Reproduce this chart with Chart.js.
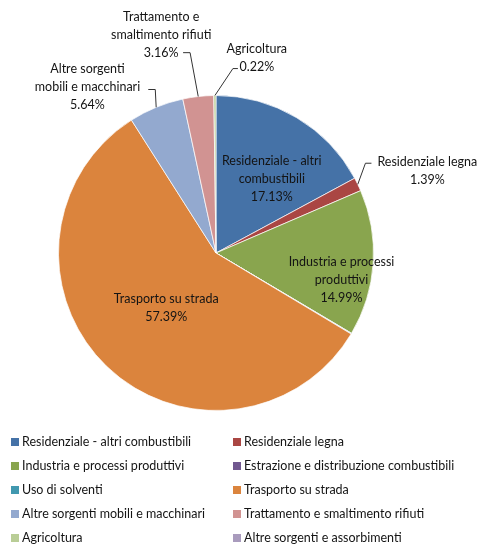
<!DOCTYPE html>
<html>
<head>
<meta charset="utf-8">
<script src="https://cdn.jsdelivr.net/npm/chart.js@4/dist/chart.umd.min.js"></script>
<style>
  html, body { margin: 0; padding: 0; background: #fff; }
  #wrap { width: 483px; height: 545px; }
</style>
</head>
<body>
<div id="wrap"><canvas id="c" width="483" height="545"></canvas></div>
<script>
// ---- data ----
const categories = [
  "Residenziale - altri combustibili",
  "Residenziale legna",
  "Industria e processi produttivi",
  "Estrazione e distribuzione combustibili",
  "Uso di solventi",
  "Trasporto su strada",
  "Altre sorgenti mobili e macchinari",
  "Trattamento e smaltimento rifiuti",
  "Agricoltura",
  "Altre sorgenti e assorbimenti"
];
const shares = [17.13, 1.39, 14.99, 0.04, 0.04, 57.39, 5.64, 3.16, 0.22, 0.00];

// ---- styles / layout ----
const colors = ["#4572A7", "#AA4643", "#89A54E", "#71588F", "#4198AF",
                "#DB843D", "#93A9CF", "#D19392", "#B9CD96", "#A99BBD"];
const FONT = "Lato, 'Open Sans', sans-serif";
const textColor = "#141414";
// label layout: index -> block centre (in units of radius, relative to pie centre),
// word index after which the name wraps, and optional leader start/elbow
const labelLayout = [
  { i: 0, dx: 0.354, dy: -0.468, brk: 3 },
  { i: 1, dx: 1.342, dy: -0.519, brk: 0, lead: { sx: 0.987, sy: -0.570, ex: -6 } },
  { i: 2, dx: 0.797, dy: 0.171, brk: 3 },
  { i: 5, dx: -0.316, dy: 0.348, brk: 0 },
  { i: 6, dx: -0.816, dy: -1.051, brk: 2, lead: { sx: -0.430, sy: -1.038, ex: 7 } },
  { i: 7, dx: -0.348, dy: -1.386, brk: 2, lead: { sx: -0.209, sy: -1.272, ex: 7 } },
  { i: 8, dx: 0.259, dy: -1.241, brk: 0, lead: { sx: 0.139, sy: -1.171, ex: -5 } }
];
const legendLayout = { colX: [11, 233], rowY: 442, rowStep: 24, box: 8, gap: 3 };

function splitName(name, brk) {
  const w = name.split(" ");
  if (!brk) return [name];
  return [w.slice(0, brk).join(" "), w.slice(brk).join(" ")];
}

const labelPlugin = {
  id: "sliceLabels",
  afterDatasetsDraw(chart) {
    const ctx = chart.ctx;
    const meta = chart.getDatasetMeta(0);
    const values = chart.data.datasets[0].data;
    ctx.save();
    ctx.font = "12.5px " + FONT;
    ctx.fillStyle = textColor;
    ctx.textAlign = "center";
    ctx.textBaseline = "middle";
    const lh = 18;
    labelLayout.forEach(L => {
      const arc = meta.data[L.i];
      const cx = arc.x, cy = arc.y, R = arc.outerRadius;
      const lines = splitName(chart.data.labels[L.i], L.brk);
      lines.push(values[L.i].toFixed(2) + "%");
      const bx = cx + L.dx * R, by = cy + L.dy * R;
      const top = by - (lines.length - 1) * lh / 2;
      lines.forEach((t, k) => ctx.fillText(t, bx, top + k * lh));
      if (L.lead) {
        const mid = (arc.startAngle + arc.endAngle) / 2;
        const ax = cx + Math.cos(mid) * R, ay = cy + Math.sin(mid) * R;
        const sx = cx + L.lead.sx * R, sy = cy + L.lead.sy * R;
        ctx.beginPath();
        ctx.strokeStyle = "#333333";
        ctx.lineWidth = 1;
        ctx.moveTo(sx, sy);
        ctx.lineTo(sx + L.lead.ex, sy);
        ctx.lineTo(ax, ay);
        ctx.stroke();
      }
    });
    ctx.restore();
  },
  afterDraw(chart) {
    const ctx = chart.ctx;
    const ds = chart.data.datasets[0];
    ctx.save();
    ctx.font = "12.5px " + FONT;
    ctx.textAlign = "left";
    ctx.textBaseline = "middle";
    chart.data.labels.forEach((lab, k) => {
      const col = k % 2, row = Math.floor(k / 2);
      const x = legendLayout.colX[col];
      const y = legendLayout.rowY + row * legendLayout.rowStep;
      ctx.fillStyle = ds.backgroundColor[k];
      ctx.fillRect(x, y - legendLayout.box / 2, legendLayout.box, legendLayout.box);
      ctx.fillStyle = textColor;
      ctx.fillText(lab, x + legendLayout.box + legendLayout.gap, y);
    });
    ctx.restore();
  }
};

new Chart(document.getElementById("c"), {
  type: "pie",
  data: {
    labels: categories,
    datasets: [{
      data: shares,
      backgroundColor: colors,
      borderColor: "rgba(255,255,255,0.7)",
      borderWidth: 1
    }]
  },
  options: {
    responsive: false,
    animation: false,
    rotation: 0,
    layout: { padding: { left: 58, right: 109, top: 95, bottom: 134 } },
    plugins: { legend: { display: false }, tooltip: { enabled: false } }
  },
  plugins: [labelPlugin]
});
</script>
</body>
</html>
